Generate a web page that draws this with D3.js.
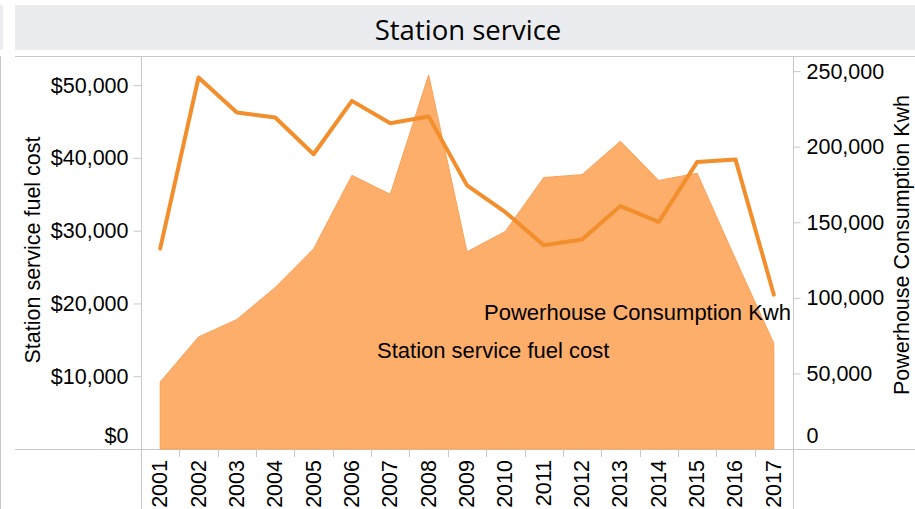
<!DOCTYPE html>
<html>
<head>
<meta charset="utf-8">
<script src="https://cdn.jsdelivr.net/npm/d3@7"></script>
<style>
  body { margin: 0; background: #fff; }
  svg { display: block; }
  text { font-family: "Liberation Sans", Arial, sans-serif; fill: #000; }
  .title { font-family: "Open Sans", "Noto Sans", sans-serif; }
</style>
</head>
<body>
<div id="chart"></div>
<script>
// data
var years = ["2001","2002","2003","2004","2005","2006","2007","2008","2009","2010","2011","2012","2013","2014","2015","2016","2017"];
var fuelCost = [9200, 15400, 17800, 22200, 27500, 37600, 35000, 51400, 27100, 29900, 37300, 37700, 42300, 36900, 37900, 26100, 14500];
var powerKwh = [132600, 245800, 222600, 219300, 195000, 230300, 215500, 220000, 174400, 156700, 134800, 138600, 160700, 150300, 189800, 191600, 102100];
var costTicks = [0, 10000, 20000, 30000, 40000, 50000];
var kwhTicks = [0, 50000, 100000, 150000, 200000, 250000];

var W = 915, H = 509;
var plotLeft = 141, plotRight = 793, plotTop = 56, plotBottom = 449;
var gridColor = "#c8c8c8";
var fs = "21.5px";

var svg = d3.select("#chart").append("svg")
  .attr("width", W)
  .attr("height", H);

// title band
svg.append("rect").attr("x", 0).attr("y", 5).attr("width", 3).attr("height", 45).attr("fill", "#ebecf0");
svg.append("rect").attr("x", 15).attr("y", 5).attr("width", W - 15).attr("height", 45).attr("fill", "#ebecf0");
svg.append("text")
  .attr("class", "title")
  .attr("x", 468).attr("y", 29)
  .attr("text-anchor", "middle")
  .attr("dominant-baseline", "central")
  .style("font-size", "27.5px")
  .text("Station service");

var x = d3.scaleBand().domain(years).range([plotLeft, plotRight]);
var yL = d3.scaleLinear().domain([0, 54000]).range([plotBottom, plotTop]);
var yR = d3.scaleLinear().domain([0, 260000]).range([plotBottom, plotTop]);

// frame lines
var frame = svg.append("g").attr("stroke", gridColor).attr("stroke-width", 1);
frame.append("line").attr("x1", 15).attr("x2", W).attr("y1", plotTop + 0.5).attr("y2", plotTop + 0.5);
frame.append("line").attr("x1", 15).attr("x2", W).attr("y1", plotBottom + 0.5).attr("y2", plotBottom + 0.5);
[0.5, plotLeft + 0.5, plotRight + 0.5].forEach(function(xx){
  frame.append("line").attr("x1", xx).attr("x2", xx).attr("y1", plotTop).attr("y2", H);
});

// area: fuel cost
var area = d3.area()
  .x(function(d, i){ return x(years[i]) + x.bandwidth() / 2; })
  .y0(yL(0))
  .y1(function(d){ return yL(d); });

svg.append("path")
  .datum(fuelCost)
  .attr("d", area)
  .attr("fill", "#fdae6a")
  .attr("stroke", "#f9a258")
  .attr("stroke-width", 1);

// line: powerhouse consumption
var line = d3.line()
  .x(function(d, i){ return x(years[i]) + x.bandwidth() / 2; })
  .y(function(d){ return yR(d); });

svg.append("path")
  .datum(powerKwh)
  .attr("d", line)
  .attr("fill", "none")
  .attr("stroke", "#f28e2b")
  .attr("stroke-width", 4)
  .attr("stroke-linejoin", "round")
  .attr("stroke-linecap", "round");

// left axis
var gL = svg.append("g")
  .attr("transform", "translate(" + (plotLeft + 0.5) + ",0)")
  .call(d3.axisLeft(yL).tickValues(costTicks).tickSize(8).tickPadding(5)
    .tickFormat(function(d){ return "$" + d3.format(",")(d); }));
gL.select(".domain").remove();
gL.selectAll("line").attr("stroke", gridColor);
gL.selectAll("text").style("font-size", fs).attr("fill", "#000");
gL.selectAll(".tick").filter(function(d){ return d === 0; }).select("line").remove();
gL.selectAll(".tick").filter(function(d){ return d === 0; }).select("text").attr("dy", "-0.3em");

// right axis
var gR = svg.append("g")
  .attr("transform", "translate(" + (plotRight + 0.5) + ",0)")
  .call(d3.axisRight(yR).tickValues(kwhTicks).tickSize(7).tickPadding(6)
    .tickFormat(d3.format(",")));
gR.select(".domain").remove();
gR.selectAll("line").attr("stroke", gridColor);
gR.selectAll("text").style("font-size", fs).attr("fill", "#000");
gR.selectAll(".tick").filter(function(d){ return d === 0; }).select("line").remove();
gR.selectAll(".tick").filter(function(d){ return d === 0; }).select("text").attr("dy", "-0.3em");

// bottom axis: boundary ticks, rotated year labels
var gX = svg.append("g");
years.slice(1).forEach(function(yr){
  gX.append("line")
    .attr("x1", Math.round(x(yr)) + 0.5).attr("x2", Math.round(x(yr)) + 0.5)
    .attr("y1", plotBottom + 1).attr("y2", plotBottom + 8)
    .attr("stroke", gridColor);
});
gX.selectAll("text.year")
  .data(years)
  .enter().append("text")
  .attr("class", "year")
  .attr("transform", function(d){
    return "translate(" + (x(d) + x.bandwidth() / 2) + "," + 460 + ") rotate(-90)";
  })
  .attr("text-anchor", "end")
  .attr("dominant-baseline", "central")
  .style("font-size", fs)
  .text(function(d){ return d; });

// axis titles
svg.append("text")
  .attr("transform", "translate(33,250) rotate(-90)")
  .attr("text-anchor", "middle")
  .attr("dominant-baseline", "central")
  .style("font-size", fs)
  .text("Station service fuel cost");

svg.append("text")
  .attr("transform", "translate(902,245) rotate(-90)")
  .attr("text-anchor", "middle")
  .attr("dominant-baseline", "central")
  .style("font-size", fs)
  .text("Powerhouse Consumption Kwh");

// mark labels
svg.append("text")
  .attr("x", 791).attr("y", 312)
  .attr("text-anchor", "end")
  .attr("dominant-baseline", "central")
  .style("font-size", "22px")
  .text("Powerhouse Consumption Kwh");

svg.append("text")
  .attr("x", 377).attr("y", 350)
  .attr("dominant-baseline", "central")
  .style("font-size", "22px")
  .text("Station service fuel cost");
</script>
</body>
</html>
